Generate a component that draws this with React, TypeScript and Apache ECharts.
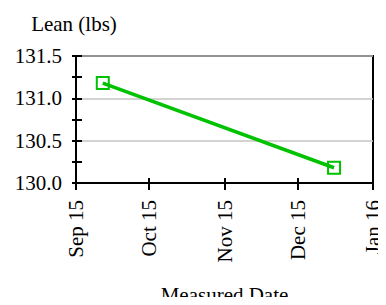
import React, { useEffect, useRef } from "react";
import * as echarts from "echarts";

const measuredDates: number[] = [
  new Date(2015, 8, 12).getTime(),
  new Date(2015, 11, 16).getTime(),
];
const leanValues: number[] = [131.18, 130.18];
const xMin = new Date(2015, 8, 1).getTime();
const xMax = new Date(2016, 0, 1).getTime();
const yMin = 130.0;
const yMax = 131.5;
const yInterval = 0.5;

const FONT = "'Liberation Serif', 'Times New Roman', serif";
const GREEN = "#00c200";
const DAY = 86400000;

export default function App() {
  const ref = useRef<HTMLDivElement>(null);
  useEffect(() => {
    if (!ref.current) return;
    const chart = echarts.init(ref.current, null, { renderer: "svg" });
    const data = measuredDates.map((d, i) => [d, leanValues[i]]);
    const xBase = {
      type: "time" as const,
      min: xMin,
      max: xMax,
      splitNumber: 4,
      minInterval: 28 * DAY,
      maxInterval: 32 * DAY,
      position: "bottom" as const,
      splitLine: { show: false },
    };
    const yBase = {
      type: "value" as const,
      min: yMin,
      max: yMax,
      interval: yInterval,
      position: "left" as const,
    };
    chart.setOption({
      animation: false,
      backgroundColor: "#fff",
      textStyle: { fontFamily: FONT },
      grid: {
        left: 76,
        right: 13,
        top: 56,
        bottom: 122,
        outerBoundsMode: "none",
        containLabel: false,
        show: true,
        borderColor: "#000",
        borderWidth: 2,
        backgroundColor: "transparent",
      },
      xAxis: [
        {
          ...xBase,
          name: "Measured Date",
          nameLocation: "middle",
          nameGap: 101,
          nameMoveOverlap: false,
          nameTextStyle: { fontFamily: FONT, fontSize: 21, color: "#000" },
          axisLine: { show: true, onZero: false, lineStyle: { color: "#000", width: 2 } },
          axisTick: { show: true, inside: false, length: 7, lineStyle: { color: "#000", width: 2 } },
          axisLabel: {
            show: true,
            rotate: 90,
            margin: 17,
            formatter: "{MMM} {yy}",
            fontFamily: FONT,
            fontSize: 21,
            color: "#000",
            showMinLabel: true,
            showMaxLabel: true,
          },
        },
        {
          ...xBase,
          axisLine: { show: false, onZero: false },
          axisTick: { show: true, inside: true, length: 5, lineStyle: { color: "#000", width: 2 } },
          axisLabel: { show: false },
        },
      ],
      yAxis: [
        {
          ...yBase,
          name: "Lean (lbs)",
          nameLocation: "end",
          nameGap: 22,
          nameMoveOverlap: false,
          nameTextStyle: { fontFamily: FONT, fontSize: 21, color: "#000", align: "center", padding: [0, 4, 0, 0] },
          axisLine: { show: true, onZero: false, lineStyle: { color: "#000", width: 2 } },
          axisTick: { show: true, inside: false, length: 4, lineStyle: { color: "#000", width: 2 } },
          minorTick: { show: true, splitNumber: 2, length: 4, lineStyle: { color: "#000", width: 2 } },
          splitLine: { show: true, lineStyle: { color: "#c4c4c4", width: 1.5 } },
          axisLabel: {
            margin: 14,
            fontFamily: FONT,
            fontSize: 21,
            color: "#000",
            padding: [6, 0, 0, 0],
            formatter: (v: number) => v.toFixed(1),
          },
        },
        {
          ...yBase,
          axisLine: { show: false, onZero: false },
          axisTick: { show: true, inside: true, length: 6, lineStyle: { color: "#000", width: 2 } },
          minorTick: { show: true, splitNumber: 2, length: 6, lineStyle: { color: "#000", width: 2 } },
          splitLine: { show: false },
          axisLabel: { show: false },
        },
      ],
      series: [
        {
          type: "line",
          data,
          xAxisIndex: 0,
          yAxisIndex: 0,
          symbol: "rect",
          symbolSize: 12,
          showAllSymbol: true,
          lineStyle: { color: GREEN, width: 3.5 },
          itemStyle: { color: "rgba(0,0,0,0)", borderColor: GREEN, borderWidth: 2 },
          emphasis: { disabled: true },
        },
      ],
    });
    return () => chart.dispose();
  }, []);
  return <div ref={ref} style={{ width: 386, height: 305, margin: -8 }} />;
}
